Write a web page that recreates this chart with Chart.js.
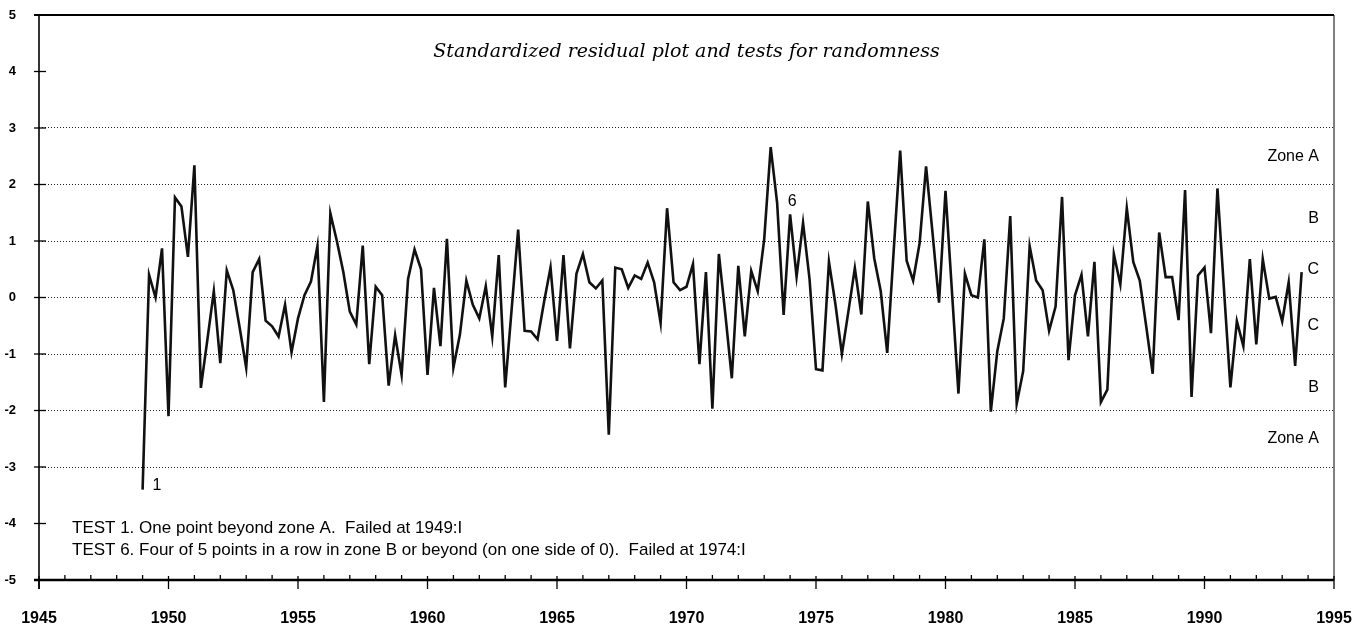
<!DOCTYPE html>
<html>
<head>
<meta charset="utf-8">
<script src="https://cdn.jsdelivr.net/npm/chart.js@4.4.0/dist/chart.umd.min.js"></script>
<style>
html, body { margin: 0; padding: 0; background: #fff; }
canvas { display: block; }
</style>
</head>
<body>
<canvas id="residChart" width="1362" height="628"></canvas>
<script>
// quarterly standardized residuals, 1949:I .. 1993:IV (one row per year)
var firstYear = 1949;
var residuals = [
  -3.4, 0.4, 0.0, 0.87,      // 1949
  -2.1, 1.77, 1.61, 0.72,    // 1950
  2.34, -1.6, -0.75, 0.11,   // 1951
  -1.16, 0.48, 0.13, -0.54,  // 1952
  -1.24, 0.45, 0.68, -0.41,  // 1953
  -0.51, -0.69, -0.13, -0.97,// 1954
  -0.37, 0.04, 0.28, 0.91,   // 1955
  -1.85, 1.49, 1.0, 0.45,    // 1956
  -0.25, -0.48, 0.92, -1.18, // 1957
  0.19, 0.04, -1.56, -0.67,  // 1958
  -1.37, 0.33, 0.85, 0.5,    // 1959
  -1.37, 0.17, -0.86, 1.04,  // 1960
  -1.24, -0.66, 0.3, -0.13,  // 1961
  -0.37, 0.2, -0.69, 0.75,   // 1962
  -1.59, -0.2, 1.2, -0.59,   // 1963
  -0.6, -0.74, -0.08, 0.53,  // 1964
  -0.77, 0.75, -0.9, 0.42,   // 1965
  0.77, 0.27, 0.16, 0.3,     // 1966
  -2.43, 0.53, 0.5, 0.17,    // 1967
  0.39, 0.33, 0.62, 0.27,    // 1968
  -0.45, 1.58, 0.27, 0.13,   // 1969
  0.19, 0.59, -1.18, 0.45,   // 1970
  -1.97, 0.77, -0.3, -1.43,  // 1971
  0.56, -0.69, 0.47, 0.11,   // 1972
  1.03, 2.66, 1.67, -0.31,   // 1973
  1.47, 0.37, 1.32, 0.33,    // 1974
  -1.27, -1.29, 0.63, -0.12, // 1975
  -1.0, -0.25, 0.52, -0.3,   // 1976
  1.7, 0.69, 0.11, -0.98,    // 1977
  0.83, 2.6, 0.65, 0.3,      // 1978
  0.96, 2.32, 1.14, -0.09,   // 1979
  1.89, 0.1, -1.7, 0.42,     // 1980
  0.04, 0.0, 1.03, -2.02,    // 1981
  -0.95, -0.37, 1.44, -1.88, // 1982
  -1.3, 0.91, 0.3, 0.13,     // 1983
  -0.59, -0.16, 1.78, -1.11, // 1984
  0.04, 0.4, -0.69, 0.63,    // 1985
  -1.85, -1.63, 0.77, 0.23,  // 1986
  1.58, 0.63, 0.3, -0.51,    // 1987
  -1.35, 1.15, 0.36, 0.36,   // 1988
  -0.4, 1.9, -1.76, 0.39,    // 1989
  0.53, -0.63, 1.93, 0.16,   // 1990
  -1.59, -0.42, -0.86, 0.68, // 1991
  -0.83, 0.68, -0.02, 0.01,  // 1992
  -0.42, 0.27, -1.21, 0.45   // 1993
];

var zoneNames = ['Zone A', 'B', 'C', 'C', 'B', 'Zone A'];
var zoneLevels = [2.5, 1.4, 0.5, -0.5, -1.6, -2.5];

// points flagged by the randomness tests
var flagLabels = ['1', '6'];
var flagPoints = [0, 100];

var testNotes = [
  'TEST 1. One point beyond zone A.  Failed at 1949:I',
  'TEST 6. Four of 5 points in a row in zone B or beyond (on one side of 0).  Failed at 1974:I'
];
var chartTitle = 'Standardized residual plot and tests for randomness';

// x = year + quarter offset
var points = residuals.map(function(v, i) {
  return { x: firstYear + i / 4, y: v };
});

Chart.defaults.font.family = '"Liberation Sans", Arial, sans-serif';
Chart.defaults.color = '#000';

var decorations = {
  id: 'decorations',
  beforeDatasetsDraw: function(chart) {
    var ctx = chart.ctx, a = chart.chartArea;
    var xs = chart.scales.x, ys = chart.scales.y;
    ctx.save();
    ctx.strokeStyle = '#000';

    // top line and right border
    ctx.lineWidth = 2;
    ctx.beginPath();
    ctx.moveTo(a.left - 5, a.top);
    ctx.lineTo(a.right, a.top);
    ctx.stroke();
    ctx.lineWidth = 1;
    ctx.beginPath();
    ctx.moveTo(a.right, a.top);
    ctx.lineTo(a.right, a.bottom);
    ctx.stroke();

    // left axis
    ctx.lineWidth = 1.6;
    ctx.beginPath();
    ctx.moveTo(a.left, a.top);
    ctx.lineTo(a.left, a.bottom + 9);
    ctx.stroke();

    // bottom axis
    ctx.lineWidth = 2.4;
    ctx.beginPath();
    ctx.moveTo(a.left - 5, a.bottom);
    ctx.lineTo(a.right, a.bottom);
    ctx.stroke();

    // y ticks
    ctx.lineWidth = 1.3;
    for (var v = -5; v <= 5; v++) {
      var y = ys.getPixelForValue(v);
      ctx.beginPath();
      ctx.moveTo(a.left - 5, y);
      ctx.lineTo(a.left + 7, y);
      ctx.stroke();
    }

    // x ticks: every year small, every 5 years long
    for (var yr = xs.min; yr <= xs.max; yr++) {
      var x = xs.getPixelForValue(yr);
      ctx.beginPath();
      if (yr % 5 === 0) {
        ctx.moveTo(x, a.bottom - 4);
        ctx.lineTo(x, a.bottom + 9);
      } else {
        ctx.moveTo(x, a.bottom - 5);
        ctx.lineTo(x, a.bottom);
      }
      ctx.stroke();
    }
    ctx.restore();
  },
  afterDatasetsDraw: function(chart) {
    var ctx = chart.ctx, a = chart.chartArea;
    var xs = chart.scales.x, ys = chart.scales.y;
    ctx.save();
    ctx.fillStyle = '#000';

    // title inside the plot
    ctx.font = 'italic 19px "DejaVu Serif", serif';
    ctx.textAlign = 'center';
    ctx.textBaseline = 'alphabetic';
    ctx.fillText(chartTitle, (a.left + a.right) / 2, a.top + 42);

    // zone names on the right
    ctx.font = '16px "Liberation Sans", Arial, sans-serif';
    ctx.textAlign = 'right';
    ctx.textBaseline = 'middle';
    zoneNames.forEach(function(name, i) {
      ctx.fillText(name, a.right - 15, ys.getPixelForValue(zoneLevels[i]));
    });

    // test flags next to the failing points
    ctx.font = '16px "Liberation Sans", Arial, sans-serif';
    var p0 = points[flagPoints[0]];
    ctx.textAlign = 'left';
    ctx.fillText(flagLabels[0], xs.getPixelForValue(p0.x) + 10, ys.getPixelForValue(p0.y) - 4);
    var p1 = points[flagPoints[1]];
    ctx.textAlign = 'center';
    ctx.fillText(flagLabels[1], xs.getPixelForValue(p1.x) + 2, ys.getPixelForValue(p1.y) - 13);

    // test notes, bottom left
    ctx.font = '17px "Liberation Sans", Arial, sans-serif';
    ctx.textAlign = 'left';
    ctx.textBaseline = 'alphabetic';
    var y4 = ys.getPixelForValue(-4);
    ctx.fillText(testNotes[0], a.left + 33, y4 + 9);
    ctx.fillText(testNotes[1], a.left + 33, y4 + 31);
    ctx.restore();
  }
};

function noScalePadding(s) {
  s.paddingTop = 0;
  s.paddingBottom = 0;
  s.paddingLeft = 0;
  s.paddingRight = 0;
}

var canvas = document.getElementById('residChart');
var residChart = new Chart(canvas, {
  type: 'line',
  data: {
    datasets: [{
      data: points,
      borderColor: '#111',
      borderWidth: 2.6,
      pointRadius: 0,
      tension: 0,
      fill: false
    }]
  },
  options: {
    responsive: false,
    animation: false,
    devicePixelRatio: 1,
    layout: { padding: { top: 15, right: 28, left: 0, bottom: 0 } },
    plugins: { legend: { display: false }, tooltip: { enabled: false }, title: { display: false } },
    scales: {
      x: {
        type: 'linear',
        min: 1945,
        max: 1995,
        ticks: {
          stepSize: 5,
          autoSkip: false,
          maxRotation: 0,
          padding: 21,
          color: '#000',
          font: { size: 16, weight: 'bold' },
          callback: function(v) { return String(v); }
        },
        grid: { display: false },
        border: { display: false },
        afterFit: function(s) { s.height = 48; noScalePadding(s); }
      },
      y: {
        min: -5,
        max: 5,
        ticks: {
          stepSize: 1,
          padding: 23,
          color: '#000',
          font: { size: 13, weight: 'bold' }
        },
        grid: {
          drawTicks: false,
          lineWidth: 1,
          color: function(c) {
            var v = c.tick.value;
            return (v >= -3 && v <= 3) ? '#222' : 'rgba(0,0,0,0)';
          }
        },
        border: { display: false, dash: [1, 2] },
        afterFit: function(s) { s.width = 39; noScalePadding(s); }
      }
    }
  },
  plugins: [decorations]
});
</script>
</body>
</html>
